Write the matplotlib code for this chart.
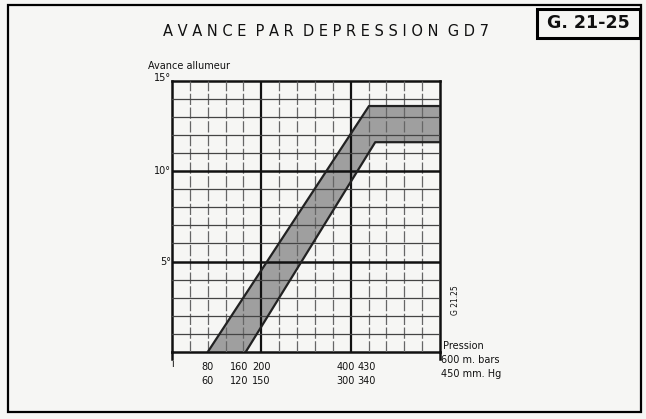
import matplotlib.pyplot as plt
from matplotlib.patches import Rectangle
from matplotlib.transforms import offset_copy

# pression (m. bars) / avance (degres)
upper_x = [80, 441, 600]
upper_y = [0, 13.6, 13.6]
lower_x = [165, 455, 600]
lower_y = [0, 11.6, 11.6]

mbar_ticks = [80, 160, 200, 400, 430]
mbar_labels = ["80", "160", "200", "400", "430"]
mmhg_labels = ["60", "120", "150", "300", "340"]
deg_ticks = [5, 10, 15]
deg_labels = ["5°", "10°", "15°"]

W, H = 646, 419
fig = plt.figure(figsize=(W / 100, H / 100), dpi=100)
fig.patch.set_facecolor("#f6f6f4")

def px(x, y):
    # pixel (from top-left) -> figure fraction
    return x / W, 1 - y / H

# outer frame
fig.add_artist(Rectangle(px(8, 412), 633 / W, 407 / H, transform=fig.transFigure,
                         fill=False, lw=1.6, ec="black"))
# reference box
fig.add_artist(Rectangle(px(537, 38), 103 / W, 29 / H, transform=fig.transFigure,
                         fill=False, lw=2.2, ec="black"))
fig.text(*px(588, 23), "G. 21-25", ha="center", va="center", fontsize=12.5,
         fontweight="bold", family="DejaVu Sans", color="#111")

fig.text(*px(326, 32), "A V A N C E  P A R  D E P R E S S I O N  G D 7",
         ha="center", va="center", fontsize=10.5, family="DejaVu Sans", color="#111")

l, b = px(172, 352)
r, t = px(440, 80.7)
ax = fig.add_axes([l, b, r - l, t - b])
ax.set_xlim(0, 600)
ax.set_ylim(0, 15)
ax.set_facecolor("none")

# band
poly_x = upper_x + lower_x[::-1]
poly_y = upper_y + lower_y[::-1]
ax.fill(poly_x, poly_y, color="#8a8a8a", alpha=0.8, lw=0, zorder=1)
ax.plot(upper_x, upper_y, color="#222", lw=1.6, zorder=4)
ax.plot(lower_x, lower_y, color="#222", lw=1.6, zorder=4)

# grid
for gx in range(40, 600, 40):
    if gx in (200, 400):
        ax.axvline(gx, color="#111", lw=1.6, zorder=3)
    else:
        ax.axvline(gx, color="#666", lw=0.9, ls=(0, (9, 2)), zorder=3)
for gy in range(1, 15):
    if gy % 5 == 0:
        ax.axhline(gy, color="#111", lw=1.8, zorder=3)
    else:
        ax.axhline(gy, color="#444", lw=0.9, zorder=3)

for s in ax.spines.values():
    s.set_linewidth(1.8)
    s.set_color("#111")

ax.set_xticks([])
ax.set_yticks([])

for v, lab in zip(deg_ticks, deg_labels):
    ax.text(-2, v + (0.15 if v == 15 else 0), lab, ha="right", va="center",
            fontsize=7, family="DejaVu Sans", color="#111")

# crowded labels nudged sideways (points)
nudge = {80: 0, 160: -3, 200: 0, 400: -3.5, 430: 2}
for v, a, c in zip(mbar_ticks, mbar_labels, mmhg_labels):
    tr = offset_copy(ax.transData, fig=fig, x=nudge[v], y=0, units="points")
    ax.text(v, -0.55, a, ha="center", va="top", fontsize=7, family="DejaVu Sans",
            color="#111", transform=tr)
    ax.text(v, -1.3, c, ha="center", va="top", fontsize=7, family="DejaVu Sans",
            color="#111", transform=tr)
ax.text(0, -0.4, "ı", ha="center", va="top", fontsize=7, color="#111")

# ticks below axis at 0 and 600
ax.plot([0, 0], [0, -0.4], color="#111", lw=1.8, clip_on=False)
ax.plot([600, 600], [0, -0.4], color="#111", lw=1.8, clip_on=False)

fig.text(*px(148, 66), "Avance allumeur", ha="left", va="center", fontsize=7,
         family="DejaVu Sans", color="#111")
fig.text(*px(443, 346), "Pression", ha="left", va="center", fontsize=7,
         family="DejaVu Sans", color="#111")
fig.text(*px(441, 360), "600 m. bars", ha="left", va="center", fontsize=7,
         family="DejaVu Sans", color="#111")
fig.text(*px(441, 374), "450 mm. Hg", ha="left", va="center", fontsize=7,
         family="DejaVu Sans", color="#111")
fig.text(*px(455, 300), "G 21.25", ha="center", va="center", fontsize=5.5,
         rotation=90, family="DejaVu Sans", color="#111")

fig.savefig("out.png", dpi=100, facecolor=fig.get_facecolor())
